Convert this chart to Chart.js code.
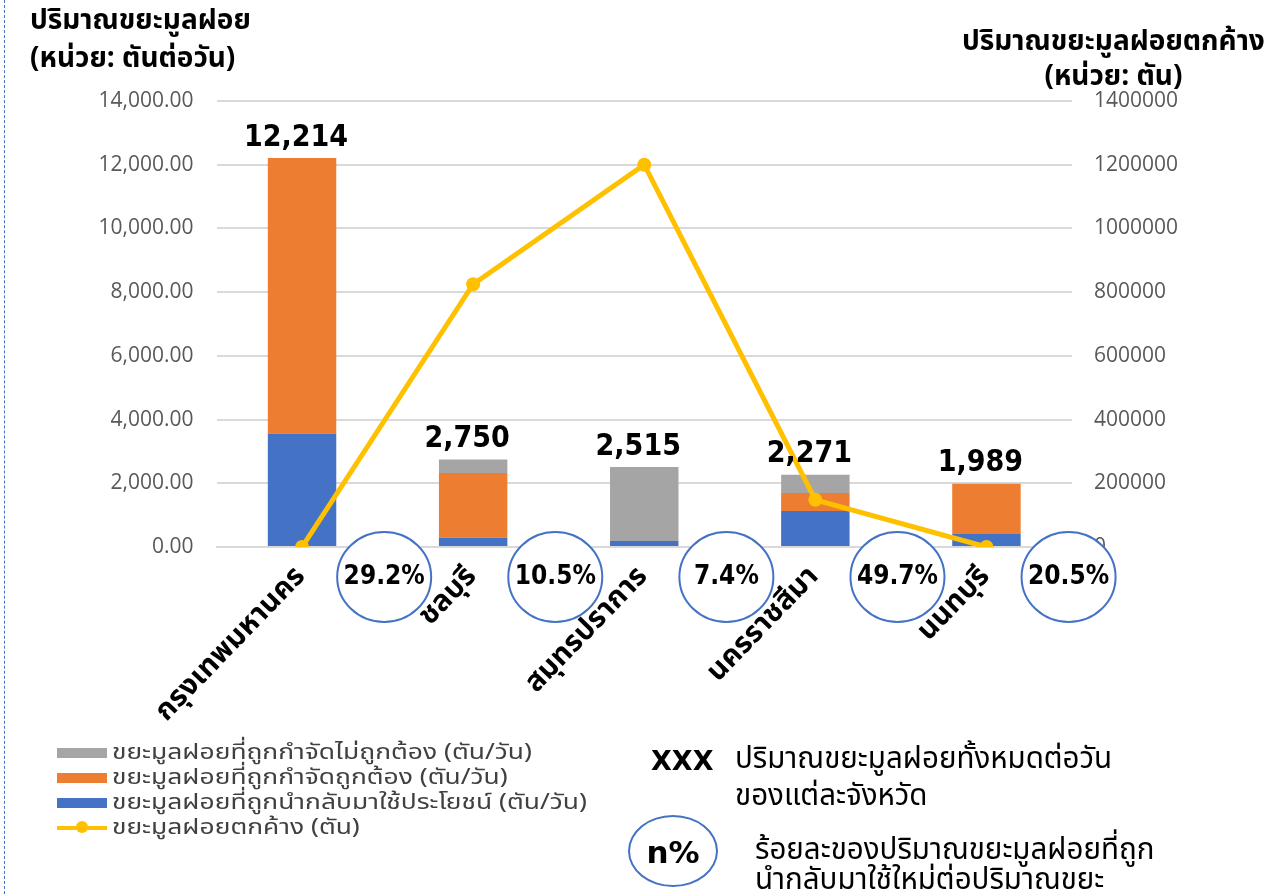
<!DOCTYPE html>
<html>
<head>
<meta charset="utf-8">
<script src="https://cdn.jsdelivr.net/npm/chart.js@4.4.1/dist/chart.umd.min.js"></script>
<style>
  html, body { margin: 0; padding: 0; background: #fff; }
  body { width: 1267px; height: 894px; position: relative; overflow: hidden;
         font-family: 'Noto Sans Thai', 'Noto Sans', 'DejaVu Sans', sans-serif; }
  #wrap { position: absolute; left: 0; top: 0; width: 1267px; height: 894px; }
  .dash { position: absolute; left: 4px; top: 0; height: 894px; border-left: 1px dashed #4472C4; }
  .t { position: absolute; color: #000; font-weight: bold; white-space: nowrap; }
  .lg { position: absolute; left: 57px; top: 740px; font-size: 22px; color: #404040; }
  .lg div { height: 25px; line-height: 25px; white-space: nowrap; }
  .lg span.sw { display: inline-block; width: 50px; height: 10px; vertical-align: middle; margin-right: 5px; }
  .lg span.tx { display: inline-block; transform: scaleX(1.2); transform-origin: left center; }
  .note { position: absolute; font-size: 29.5px; color: #000; white-space: nowrap; }
  .oval { position: absolute; left: 628px; top: 815px; width: 86px; height: 68px; border: 2px solid #4472C4;
          border-radius: 50%; display: flex; align-items: center; justify-content: center;
          font: bold 31px 'DejaVu Sans'; line-height: 1; }
</style>
</head>
<body>
<div id="wrap"><canvas id="c" width="1267" height="894"></canvas></div>
<div class="dash"></div>
<div class="t" style="left:30px;top:2px;font-size:28px;line-height:38px;">ปริมาณขยะมูลฝอย<br>(หน่วย: ตันต่อวัน)</div>
<div class="t" style="left:962px;top:24px;font-size:28px;line-height:35px;text-align:center;">ปริมาณขยะมูลฝอยตกค้าง<br>(หน่วย: ตัน)</div>
<div class="lg" id="legend"></div>
<div class="t" style="left:651px;top:745px;font:bold 27px 'DejaVu Sans';">XXX</div>
<div class="note" style="left:735px;top:741px;line-height:37px;">ปริมาณขยะมูลฝอยทั้งหมดต่อวัน<br>ของแต่ละจังหวัด</div>
<div class="oval"><span style="margin-top:2px">n%</span></div>
<div class="note" style="left:755px;top:835px;line-height:30px;">ร้อยละของปริมาณขยะมูลฝอยที่ถูก<br>นำกลับมาใช้ใหม่ต่อปริมาณขยะ</div>
<script>
const provinces = ['กรุงเทพมหานคร', 'ชลบุรี', 'สมุทรปราการ', 'นครราชสีมา', 'นนทบุรี'];
// tons per day
const reused = [3566, 289, 186, 1129, 408];
const disposedOk = [8648, 2034, 0, 566, 1581];
const disposedBad = [0, 427, 2329, 576, 0];
// tons (right axis)
const leftover = [0, 825000, 1200000, 148000, 0];
const reusePct = ['29.2%', '10.5%', '7.4%', '49.7%', '20.5%'];

const legendItems = [
  { label: 'ขยะมูลฝอยที่ถูกกำจัดไม่ถูกต้อง (ตัน/วัน)', color: '#A5A5A5' },
  { label: 'ขยะมูลฝอยที่ถูกกำจัดถูกต้อง (ตัน/วัน)', color: '#ED7D31' },
  { label: 'ขยะมูลฝอยที่ถูกนำกลับมาใช้ประโยชน์ (ตัน/วัน)', color: '#4472C4' },
  { label: 'ขยะมูลฝอยตกค้าง (ตัน)', color: '#FFC000', line: true }
];

const thai = "'Noto Sans Thai', 'Noto Sans', 'DejaVu Sans', sans-serif";
const boldNum = "'DejaVu Sans Condensed', 'DejaVu Sans'";

// totals above the bars + percentage ovals between categories
const extras = {
  id: 'extras',
  afterDatasetsDraw(chart) {
    const ctx = chart.ctx;
    const x = chart.scales.x, y = chart.scales.y;
    const step = x.getPixelForValue(1) - x.getPixelForValue(0);
    ctx.save();
    provinces.forEach((p, i) => {
      const total = reused[i] + disposedOk[i] + disposedBad[i];
      const px = x.getPixelForValue(i);
      ctx.fillStyle = '#000';
      ctx.font = 'bold 30px ' + boldNum;
      ctx.textAlign = 'center';
      ctx.textBaseline = 'bottom';
      ctx.fillText(total.toLocaleString('en-US'), px - 6, y.getPixelForValue(total) - 5);

      const cx = px + step * 0.48, cy = y.bottom + 30;
      ctx.beginPath();
      ctx.ellipse(cx, cy, 47, 45, 0, 0, Math.PI * 2);
      ctx.fillStyle = '#fff';
      ctx.fill();
      ctx.lineWidth = 2;
      ctx.strokeStyle = '#4472C4';
      ctx.stroke();
      ctx.fillStyle = '#000';
      ctx.font = 'bold 26px ' + boldNum;
      ctx.textBaseline = 'middle';
      ctx.fillText(reusePct[i], cx, cy);
    });
    ctx.restore();
  }
};

new Chart(document.getElementById('c'), {
  type: 'bar',
  data: {
    labels: provinces,
    datasets: [
      { type: 'line', label: legendItems[3].label, data: leftover, yAxisID: 'y1', order: 0,
        borderColor: '#FFC000', backgroundColor: '#FFC000', borderWidth: 5,
        pointRadius: 7, pointBackgroundColor: '#FFC000', pointBorderWidth: 0, tension: 0 },
      { label: legendItems[2].label, data: reused, backgroundColor: '#4472C4', yAxisID: 'y', order: 1, stack: 's' },
      { label: legendItems[1].label, data: disposedOk, backgroundColor: '#ED7D31', yAxisID: 'y', order: 1, stack: 's' },
      { label: legendItems[0].label, data: disposedBad, backgroundColor: '#A5A5A5', yAxisID: 'y', order: 1, stack: 's' }
    ]
  },
  options: {
    responsive: false,
    animation: false,
    layout: { padding: { top: 101, left: 0, right: 0, bottom: 0 } },
    plugins: { legend: { display: false }, tooltip: { enabled: false } },
    datasets: { bar: { barPercentage: 0.4, categoryPercentage: 1 } },
    scales: {
      x: {
        stacked: true,
        grid: { display: false },
        border: { color: '#d9d9d9', width: 2 },
        ticks: { color: '#000', font: { family: thai, size: 29, weight: 'bold' },
                 minRotation: 46, maxRotation: 46, padding: 6 },
        afterFit(s) { s.height = 347; }
      },
      y: {
        stacked: true, position: 'left', min: 0, max: 14000,
        grid: { color: '#d9d9d9', lineWidth: 2, drawTicks: false },
        border: { display: false },
        ticks: { stepSize: 2000, color: '#595959', padding: 23,
                 font: { family: "'Open Sans'", size: 21 },
                 callback: v => v.toLocaleString('en-US', { minimumFractionDigits: 2, maximumFractionDigits: 2 }) },
        afterFit(s) { s.width = 216.5; }
      },
      y1: {
        position: 'right', min: 0, max: 1400000,
        grid: { display: false, drawTicks: false },
        border: { display: false },
        ticks: { stepSize: 200000, color: '#595959', padding: 22,
                 font: { family: "'Open Sans'", size: 21 },
                 callback: v => String(v) },
        afterFit(s) { s.width = 195; }
      }
    }
  },
  plugins: [extras]
});

// legend built from the same labels and colours
const lg = document.getElementById('legend');
legendItems.forEach(it => {
  const row = document.createElement('div');
  const sw = it.line
    ? `<span class="sw" style="height:4px;background:${it.color};position:relative;"><span style="position:absolute;left:19px;top:-5px;width:12px;height:12px;border-radius:50%;background:${it.color}"></span></span>`
    : `<span class="sw" style="background:${it.color}"></span>`;
  row.innerHTML = sw + `<span class="tx">${it.label}</span>`;
  lg.appendChild(row);
});
</script>
</body>
</html>
